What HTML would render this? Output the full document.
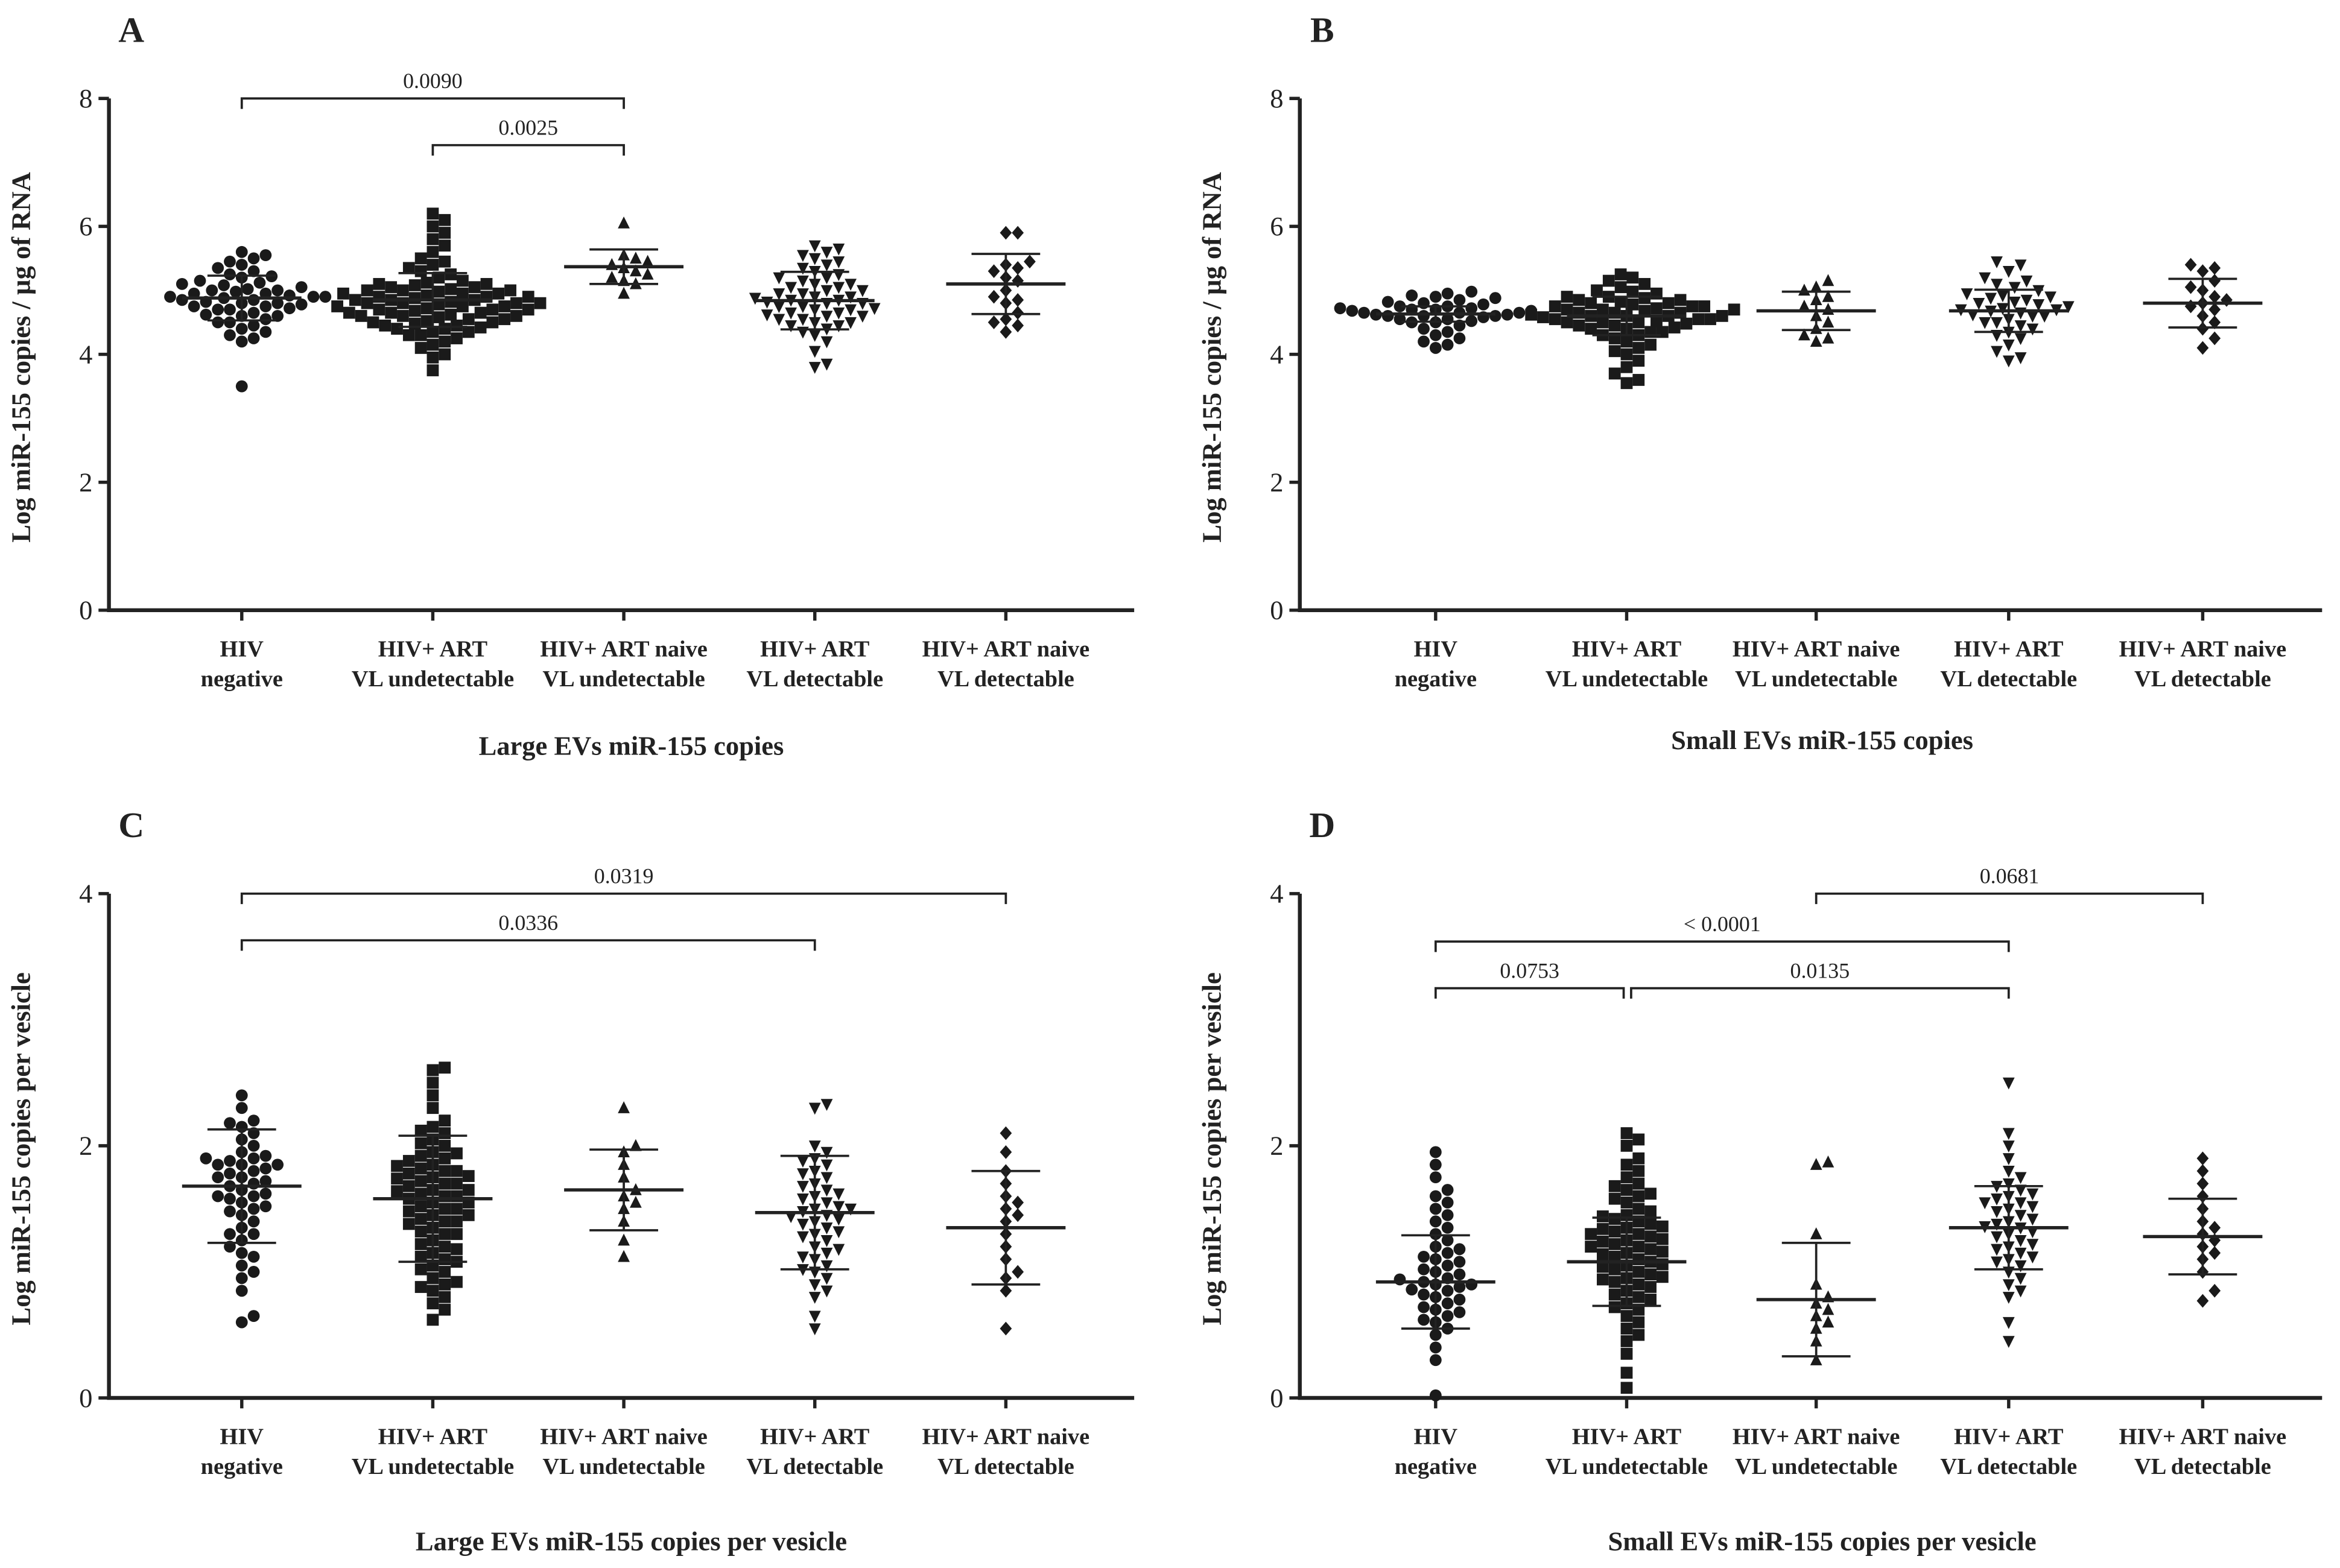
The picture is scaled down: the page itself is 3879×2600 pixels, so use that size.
<!DOCTYPE html>
<html><head><meta charset="utf-8"><style>
html,body{margin:0;padding:0;background:#fff;}
svg{display:block;}
text{font-family:"Liberation Serif",serif;fill:#222;}
</style></head><body>
<svg id="fig" xmlns="http://www.w3.org/2000/svg" width="3879" height="2600" viewBox="0 0 1568 1051"></svg>
<script>
// ---------- DATA ----------
const categories = [["HIV","negative"],["HIV+ ART","VL undetectable"],["HIV+ ART naive","VL undetectable"],["HIV+ ART","VL detectable"],["HIV+ ART naive","VL detectable"]];
const shapes = ["circle","square","up","down","diamond"];

const A0=[3.5,4.2,4.25,4.3,4.35,4.4,4.45,4.5,4.5,4.55,4.6,4.6,4.62,4.65,4.7,4.7,4.72,4.75,4.75,4.78,4.8,4.8,4.82,4.85,4.85,4.88,4.9,4.9,4.9,4.92,4.95,4.95,4.98,5.0,5.0,5.02,5.05,5.08,5.1,5.12,5.15,5.2,5.22,5.25,5.3,5.35,5.4,5.45,5.5,5.55,5.6];
const A1=[3.75,3.95,4.0,4.1,4.15,4.2,4.25,4.3,4.3,4.35,4.35,4.4,4.4,4.42,4.45,4.45,4.48,4.5,4.5,4.52,4.55,4.55,4.58,4.6,4.6,4.6,4.62,4.65,4.65,4.65,4.68,4.7,4.7,4.7,4.72,4.75,4.75,4.75,4.78,4.8,4.8,4.8,4.8,4.82,4.85,4.85,4.85,4.88,4.9,4.9,4.9,4.92,4.95,4.95,4.95,4.98,5.0,5.0,5.0,5.02,5.05,5.05,5.08,5.1,5.1,5.12,5.15,5.2,5.25,5.3,5.35,5.4,5.45,5.5,5.6,5.7,5.8,5.9,6.0,6.1,6.2];
const A2=[4.95,5.1,5.15,5.2,5.25,5.3,5.35,5.4,5.45,5.5,5.55,6.05];
const A3=[3.8,3.85,4.05,4.2,4.3,4.35,4.4,4.45,4.45,4.5,4.5,4.55,4.55,4.6,4.6,4.62,4.65,4.65,4.7,4.7,4.72,4.75,4.75,4.8,4.8,4.82,4.85,4.85,4.88,4.9,4.9,4.95,4.95,5.0,5.0,5.05,5.05,5.1,5.1,5.15,5.2,5.2,5.25,5.3,5.35,5.4,5.45,5.5,5.55,5.6,5.65,5.7];
const A4=[4.35,4.45,4.5,4.55,4.65,4.8,4.85,4.9,5.0,5.15,5.2,5.3,5.35,5.4,5.45,5.9,5.9];
const meanA=[4.88,4.85,5.37,4.84,5.1], sdA=[0.35,0.42,0.27,0.45,0.47];

const B0=[4.1,4.15,4.2,4.25,4.3,4.35,4.4,4.45,4.5,4.5,4.52,4.55,4.55,4.58,4.6,4.6,4.6,4.62,4.62,4.65,4.65,4.65,4.68,4.68,4.7,4.7,4.72,4.72,4.75,4.75,4.78,4.8,4.82,4.85,4.88,4.9,4.92,4.95,4.98];
const B1=[3.55,3.6,3.7,3.8,3.9,4.0,4.05,4.1,4.15,4.2,4.25,4.3,4.3,4.35,4.35,4.4,4.4,4.42,4.45,4.45,4.48,4.5,4.5,4.5,4.52,4.55,4.55,4.55,4.58,4.6,4.6,4.6,4.6,4.62,4.65,4.65,4.65,4.68,4.7,4.7,4.7,4.72,4.75,4.75,4.75,4.78,4.8,4.8,4.82,4.85,4.85,4.88,4.9,4.9,4.95,4.98,5.0,5.05,5.1,5.15,5.2,5.25];
const B2=[4.2,4.25,4.3,4.4,4.5,4.6,4.7,4.75,4.85,4.9,5.0,5.05,5.15];
const B3=[3.9,3.95,4.05,4.15,4.25,4.3,4.35,4.4,4.45,4.5,4.5,4.55,4.6,4.6,4.62,4.65,4.68,4.7,4.7,4.72,4.75,4.78,4.8,4.82,4.85,4.88,4.9,4.92,4.95,5.0,5.05,5.1,5.15,5.2,5.3,5.4,5.45];
const B4=[4.1,4.25,4.4,4.5,4.6,4.7,4.75,4.8,4.85,4.9,5.0,5.05,5.15,5.3,5.35,5.4];
const meanB=[4.63,4.6,4.68,4.68,4.8], sdB=[0.12,0.3,0.3,0.33,0.38];

const C0=[0.6,0.65,0.85,0.95,1.05,1.15,1.2,1.25,1.3,1.35,1.4,1.45,1.5,1.52,1.55,1.58,1.6,1.62,1.65,1.68,1.7,1.72,1.75,1.78,1.8,1.82,1.85,1.85,1.88,1.9,1.92,1.95,2.0,2.05,2.1,2.15,2.2,2.3,2.4,1.0,1.3,1.6,1.75,1.85,1.9,2.18,1.12,1.48];
const C1=[0.62,0.75,0.8,0.85,0.9,0.95,1.0,1.05,1.1,1.15,1.2,1.25,1.3,1.3,1.35,1.4,1.4,1.45,1.45,1.5,1.5,1.55,1.55,1.6,1.6,1.62,1.65,1.65,1.7,1.7,1.72,1.75,1.78,1.8,1.8,1.82,1.85,1.88,1.9,1.92,1.95,2.0,2.05,2.1,2.15,2.2,2.3,2.4,2.5,2.6,2.62,0.7,0.88,1.02,1.12,1.22,1.32,1.42,1.52,1.58,1.68,1.76,1.84,1.94,2.02,2.12,1.18,1.38,1.48,1.64,1.74,0.92,1.08];
const C2=[1.12,1.25,1.4,1.5,1.55,1.6,1.65,1.75,1.85,1.95,2.0,2.3];
const C3=[0.55,0.65,0.8,0.9,1.0,1.05,1.1,1.15,1.2,1.25,1.3,1.35,1.4,1.42,1.45,1.48,1.5,1.55,1.6,1.62,1.65,1.7,1.75,1.8,1.85,1.9,1.95,2.0,2.3,2.33,0.85,1.02,1.18,1.28,1.38,1.52,1.58,1.68,1.78,1.88,1.12,1.32,1.44,1.5,0.95];
const C4=[0.55,0.85,1.0,1.1,1.2,1.3,1.4,1.45,1.5,1.6,1.7,1.8,1.95,2.1,0.95,1.55];
const meanC=[1.68,1.58,1.65,1.47,1.35], sdC=[0.45,0.5,0.32,0.45,0.45];

const D0=[0.02,0.3,0.4,0.5,0.55,0.6,0.65,0.7,0.75,0.8,0.82,0.85,0.88,0.9,0.92,0.95,0.98,1.0,1.05,1.1,1.12,1.15,1.2,1.25,1.3,1.35,1.4,1.5,1.6,1.65,1.75,1.85,1.95,0.72,0.78,0.86,0.94,1.02,1.08,1.18,1.45,1.55,0.62,0.68,0.9];
const D1=[0.08,0.2,0.35,0.45,0.55,0.6,0.7,0.75,0.8,0.85,0.9,0.92,0.95,0.98,1.0,1.02,1.05,1.08,1.1,1.12,1.15,1.18,1.2,1.22,1.25,1.28,1.3,1.32,1.35,1.38,1.4,1.45,1.5,1.55,1.6,1.65,1.7,1.75,1.8,1.9,2.0,2.05,2.1,0.5,0.65,0.78,0.88,0.96,1.04,1.14,1.24,1.34,1.42,1.48,1.58,1.68,1.85,0.72,0.94,1.16,1.26,1.36,1.44,1.62,0.82,1.06,1.2,1.3];
const D2=[0.3,0.45,0.55,0.6,0.65,0.7,0.75,0.8,0.9,1.3,1.85,1.87];
const D3=[0.45,0.6,0.8,0.9,1.0,1.05,1.1,1.15,1.2,1.25,1.3,1.32,1.35,1.38,1.4,1.45,1.5,1.55,1.6,1.65,1.7,1.8,1.9,2.0,2.1,2.5,0.95,1.12,1.22,1.28,1.36,1.42,1.52,1.58,1.62,1.68,1.75,0.85,1.08,1.18,1.48,1.55];
const D4=[0.77,0.85,1.0,1.1,1.15,1.2,1.25,1.3,1.35,1.4,1.5,1.6,1.7,1.8,1.9];
const meanD=[0.92,1.08,0.78,1.35,1.28], sdD=[0.37,0.35,0.45,0.33,0.3];

const ticksAB=[0,2,4,6,8], ticksCD=[0,2,4];
const sigA=[[0,2,8.0,"0.0090"],[1,2,7.27,"0.0025"]];
const sigB=[];
const sigC=[[0,4,4.0,"0.0319"],[0,3,3.63,"0.0336"]];
const sigD=[[2,4,4.0,"0.0681"],[0,3,3.62,"< 0.0001"],[0,1,3.25,"0.0753"],[1,3,3.25,"0.0135"]];

// ---------- DRAW ----------
const NS="http://www.w3.org/2000/svg", svg=document.getElementById('fig');
function mk(tag,attrs,parent,txt){const e=document.createElementNS(NS,tag);for(const k in attrs)e.setAttribute(k,attrs[k]);if(txt!==undefined)e.textContent=txt;(parent||svg).appendChild(e);return e;}

const panels=[
 {id:'a',letter:'A',x0:73,x1:760,top:66,bot:409,max:8,ticks:ticksAB,cx:[162,290,418,546,674],groups:[A0,A1,A2,A3,A4],mean:meanA,sd:sdA,sig:sigA,title:"Large EVs miR-155 copies",ytitle:"Log miR-155 copies / µg of RNA",lab1:440,titleY:506},
 {id:'b',letter:'B',x0:871,x1:1556,top:66,bot:409,max:8,ticks:ticksAB,cx:[962,1090,1217,1346,1476],groups:[B0,B1,B2,B3,B4],mean:meanB,sd:sdB,sig:sigB,title:"Small EVs miR-155 copies",ytitle:"Log miR-155 copies / µg of RNA",lab1:440,titleY:502},
 {id:'c',letter:'C',x0:73,x1:760,top:599,bot:937,max:4,ticks:ticksCD,cx:[162,290,418,546,674],groups:[C0,C1,C2,C3,C4],mean:meanC,sd:sdC,sig:sigC,title:"Large EVs miR-155 copies per vesicle",ytitle:"Log miR-155 copies per vesicle",lab1:968,titleY:1039},
 {id:'d',letter:'D',x0:871,x1:1556,top:599,bot:937,max:4,ticks:ticksCD,cx:[962,1090,1217,1346,1476],groups:[D0,D1,D2,D3,D4],mean:meanD,sd:sdD,sig:sigD,title:"Small EVs miR-155 copies per vesicle",ytitle:"Log miR-155 copies per vesicle",lab1:968,titleY:1039}
];

function marker(g,shape,x,y){
  const r=4.0; let e;
  if(shape==='circle') e=mk('circle',{cx:x,cy:y,r:r,fill:'#1a1a1a'},g);
  else if(shape==='square') e=mk('rect',{x:x-r,y:y-r,width:2*r,height:2*r,fill:'#1a1a1a'},g);
  else if(shape==='up') e=mk('polygon',{points:`${x},${y-r-0.5} ${x+r},${y+r-0.5} ${x-r},${y+r-0.5}`,fill:'#1a1a1a'},g);
  else if(shape==='down') e=mk('polygon',{points:`${x-r},${y-r+0.5} ${x+r},${y-r+0.5} ${x},${y+r+0.5}`,fill:'#1a1a1a'},g);
  else e=mk('polygon',{points:`${x},${y-r-0.6} ${x+r},${y} ${x},${y+r+0.6} ${x-r},${y}`,fill:'#1a1a1a'},g);
  return e;
}

panels.forEach(p=>{
  const yS=v=>p.bot-(v/p.max)*(p.bot-p.top);
  const g=mk('g',{},svg);
  
  
  const L=mk('text',{x:p.x0+15,y:p.top-38,'font-size':24,'font-weight':'bold','text-anchor':'middle'},g,p.letter);
   
  const ax=mk('path',{d:`M${p.x0},${p.top} V${p.bot} H${p.x1}`,stroke:'#222','stroke-width':2.6,fill:'none'},g);
   
  p.ticks.forEach(t=>{
    const y=yS(t);
    mk('line',{x1:p.x0-7,x2:p.x0,y1:y,y2:y,stroke:'#222','stroke-width':2.2},g);
    const tl=mk('text',{x:p.x0-11,y:y+6,'font-size':18,'text-anchor':'end'},g,String(t));
     
  });
  p.cx.forEach((x,i)=>{
    mk('line',{x1:x,x2:x,y1:p.bot,y2:p.bot+7,stroke:'#222','stroke-width':2.2},g);
    const t1=mk('text',{x:x,y:p.lab1,'font-size':15.5,'font-weight':'bold','text-anchor':'middle'},g,categories[i][0]);
     
    const t2=mk('text',{x:x,y:p.lab1+20,'font-size':15.5,'font-weight':'bold','text-anchor':'middle'},g,categories[i][1]);
     
  });
  const tt=mk('text',{x:p.x0+350,y:p.titleY,'font-size':18,'font-weight':'bold','text-anchor':'middle'},g,p.title);
   
  const yc=(p.top+p.bot)/2;
  const yt=mk('text',{x:0,y:0,'font-size':18,'font-weight':'bold','text-anchor':'middle',transform:`translate(${p.x0-53},${yc+2}) rotate(-90)`},g,p.ytitle);
   
  p.groups.forEach((vals,gi)=>{
    const sg=mk('g',{},g);
    
    
    const placed=[]; const d=8.0, step=4.0;
    vals.slice().sort((a,b)=>a-b).forEach(v=>{
      const y=yS(v); let off=0;
      for(let k=0;k<60;k++){
        const o=(k%2?1:-1)*Math.ceil(k/2)*step;
        if(placed.every(q=>Math.hypot(q[0]-o,q[1]-y)>=d)){off=o;break;}
      }
      placed.push([off,y]);
      const m=marker(sg,shapes[gi],p.cx[gi]+off,y);
      
      
    });
    const x=p.cx[gi], ym=yS(p.mean[gi]), yh=yS(p.mean[gi]+p.sd[gi]), yl=yS(p.mean[gi]-p.sd[gi]);
    const mn=mk('line',{x1:x-40,x2:x+40,y1:ym,y2:ym,stroke:'#222','stroke-width':2.2},sg);
     
    const eb=mk('path',{d:`M${x-23},${yh} H${x+23} M${x-23},${yl} H${x+23} M${x},${yh} V${yl}`,stroke:'#222','stroke-width':1.5,fill:'none'},sg);
     
  });
  p.sig.forEach(s=>{
    let xa=p.cx[s[0]], xb=p.cx[s[1]]; const y=yS(s[2]);
    if(p.id==='d'&&s[2]<3.3){ if(s[0]===0&&s[1]===1) xb-=2; else if(s[0]===1) xa+=3; }
    const br=mk('path',{d:`M${xa},${y+7} V${y} H${xb} V${y+7}`,stroke:'#222','stroke-width':1.5,fill:'none'},g);
     
    const pt=mk('text',{x:(xa+xb)/2,y:y-7,'font-size':14.5,'text-anchor':'middle'},g,s[3]);
     
  });
});
</script>
</body></html>
